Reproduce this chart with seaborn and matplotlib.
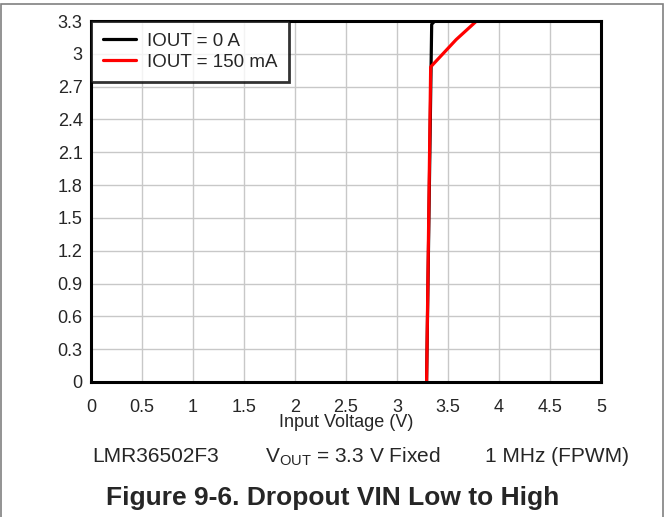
import matplotlib
matplotlib.use("Agg")
import matplotlib.pyplot as plt
import seaborn as sns
import pandas as pd
import numpy as np
from matplotlib.patches import Rectangle

# Data
vin_0a = [3.29, 3.34, 3.37]
vout_0a = [0.0, 3.27, 3.30]
vin_150ma = [3.29, 3.33, 3.58, 3.78]
vout_150ma = [0.0, 2.88, 3.13, 3.30]
x_ticks = [0, 0.5, 1, 1.5, 2, 2.5, 3, 3.5, 4, 4.5, 5]
y_ticks = [0, 0.3, 0.6, 0.9, 1.2, 1.5, 1.8, 2.1, 2.4, 2.7, 3.0, 3.3]
x_labels = ["0", "0.5", "1", "1.5", "2", "2.5", "3", "3.5", "4", "4.5", "5"]
y_labels = ["0", "0.3", "0.6", "0.9", "1.2", "1.5", "1.8", "2.1", "2.4", "2.7", "3", "3.3"]

df = pd.concat([
    pd.DataFrame({"vin": vin_0a, "vout": vout_0a, "series": "IOUT = 0 A"}),
    pd.DataFrame({"vin": vin_150ma, "vout": vout_150ma, "series": "IOUT = 150 mA"}),
], ignore_index=True)

sns.set_style("white")
plt.rcParams['font.family'] = ['Liberation Sans', 'DejaVu Sans']

fig = plt.figure(figsize=(6.66, 5.17), dpi=100)
ax = fig.add_axes([91/666, 1 - 382/517, 510/666, 361/517])

sns.lineplot(data=df, x="vin", y="vout", hue="series", sort=False,
             palette={"IOUT = 0 A": "black", "IOUT = 150 mA": "#ff0000"},
             linewidth=2.3, ax=ax, estimator=None, legend=True)

ax.set_xlim(0, 5)
ax.set_ylim(0, 3.3)
ax.set_xticks(x_ticks)
ax.set_xticklabels(x_labels)
ax.set_yticks(y_ticks)
ax.set_yticklabels(y_labels)
ax.tick_params(axis='both', labelsize=13, length=0)
ax.tick_params(axis='x', pad=12)
ax.tick_params(axis='y', pad=6)
ax.grid(True, color="#c8c8c8", linewidth=1)
ax.set_axisbelow(True)
for s in ax.spines.values():
    s.set_color("black")
    s.set_linewidth(2.2)
ax.set_xlabel("Input Voltage (V)", fontsize=13, labelpad=-1)
ax.set_ylabel("")

leg = ax.legend(loc="upper left", fontsize=13.5, frameon=True, fancybox=False,
                borderaxespad=0, handlelength=1.8, handletextpad=0.55,
                borderpad=0.62, labelspacing=0.2)
leg.get_frame().set_edgecolor("black")
leg.get_frame().set_linewidth(2)
for l in leg.get_lines():
    l.set_linewidth(2.3)

fig.text(92/666, 1 - 457/517, "LMR36502F3", fontsize=15, va="center", ha="left")
fig.text(265/666, 1 - 457/517, r"V$_{\mathregular{OUT}}$ = 3.3 V Fixed", fontsize=15, va="center", ha="left")
fig.text(629/666, 1 - 457/517, "1 MHz (FPWM)", fontsize=15, va="center", ha="right")
fig.text(333/666, 1 - 498/517, "Figure 9-6. Dropout VIN Low to High", fontsize=19,
         fontweight="bold", va="center", ha="center")

fig.patches.append(Rectangle((0.5/666, -0.1), 662.5/666, 1.1 - 3.5/517, transform=fig.transFigure,
                             fill=False, edgecolor="#808080", linewidth=1.2))

fig.savefig("out.png", dpi=100)
